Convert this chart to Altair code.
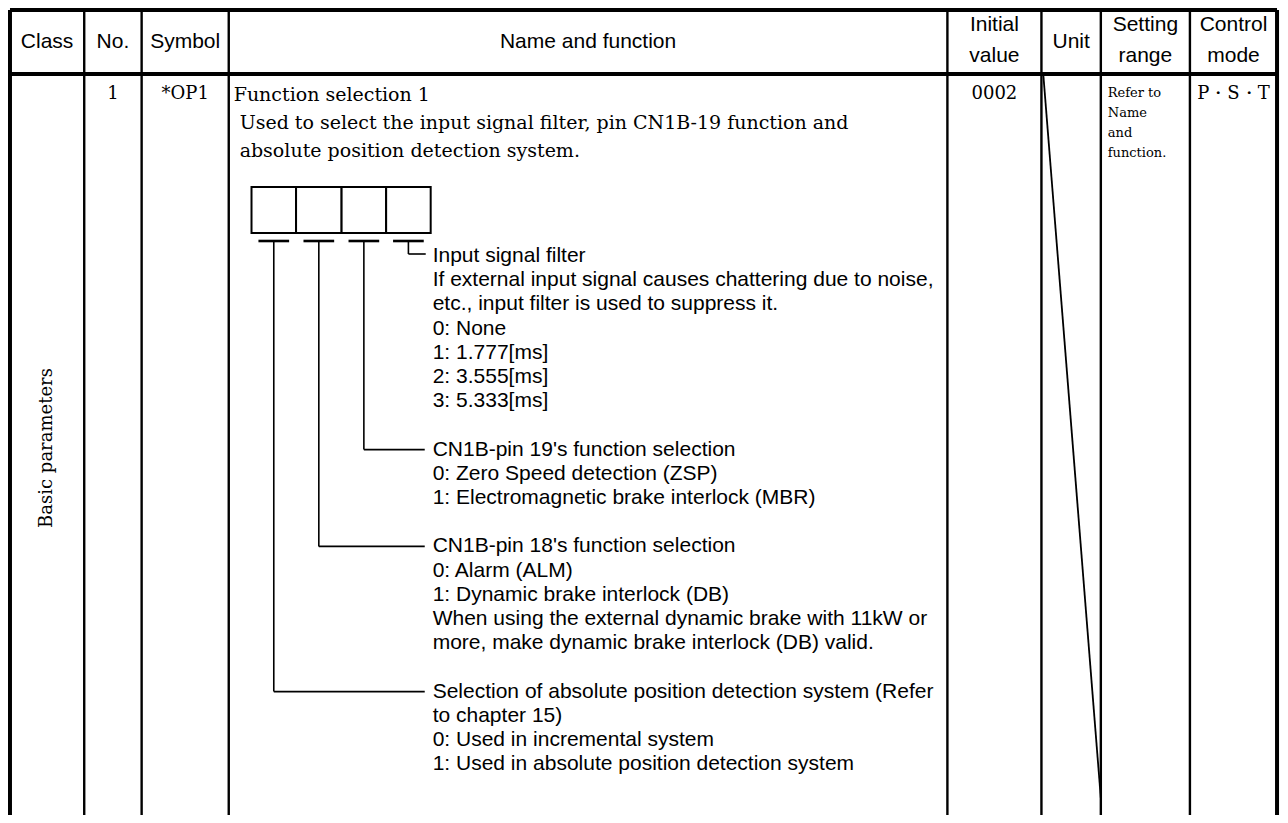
import altair as alt
import pandas as pd

# ---------------- table content ----------------
header_line1 = ["Class", "No.", "Symbol", "Name and function", "Initial", "Unit", "Setting", "Control"]
header_line2 = ["", "", "", "", "value", "", "range", "mode"]

class_label = "Basic parameters"
param_no = "1"
param_symbol = "*OP1"
param_initial = "0002"
param_mode = "P\u30fbS\u30fbT"
setting_range_lines = ["Refer to", "Name", "and", "function."]

name_title = "Function selection 1"
name_desc = [
    "Used to select the input signal filter, pin CN1B-19 function and",
    "absolute position detection system.",
]

digit_filter = [
    "Input signal filter",
    "If external input signal causes chattering due to noise,",
    "etc., input filter is used to suppress it.",
    "0: None",
    "1: 1.777[ms]",
    "2: 3.555[ms]",
    "3: 5.333[ms]",
]
digit_pin19 = [
    "CN1B-pin 19's function selection",
    "0: Zero Speed detection (ZSP)",
    "1: Electromagnetic brake interlock (MBR)",
]
digit_pin18 = [
    "CN1B-pin 18's function selection",
    "0: Alarm (ALM)",
    "1: Dynamic brake interlock (DB)",
    "When using the external dynamic brake with 11kW or",
    "more, make dynamic brake interlock (DB) valid.",
]
digit_abs = [
    "Selection of absolute position detection system (Refer",
    "to chapter 15)",
    "0: Used in incremental system",
    "1: Used in absolute position detection system",
]

# ---------------- layout (page coordinates of the reference) ----------------
col_edges = [5, 80, 138, 226, 952, 1047, 1107, 1197, 1285]
top_y, head_y, bottom_y = 10, 74, 823
box_edges = [249, 294, 340, 385, 430]
box_top, box_bottom = 187, 233
dash_y = 241
line0_y, line_step = 256, 24.2
text_x = 432
leader_end = 424
row_y = 94

xs = alt.Scale(domain=[3, 1288], nice=False, zero=False)
ys = alt.Scale(domain=[8, 815], nice=False, zero=False, reverse=True)

# ---- rules ----
rules = []
def add_rule(x, y, x2, y2, w):
    rules.append(dict(x=x, y=y, x2=x2, y2=y2, w=w))

add_rule(col_edges[0], top_y, col_edges[-1], top_y, 4)
add_rule(col_edges[0], head_y, col_edges[-1], head_y, 4)
for i, e in enumerate(col_edges):
    add_rule(e, top_y, e, bottom_y, 4 if i in (0, len(col_edges) - 1) else 2.4)

# dashes under each digit box
centers = [(box_edges[i] + box_edges[i + 1]) / 2 for i in range(4)]
for c in centers:
    add_rule(c - 15.5, dash_y, c + 15.5, dash_y, 2.6)

# leaders: (lines, line index of group start, box index)
groups = [(digit_abs, 18, 0), (digit_pin18, 12, 1), (digit_pin19, 8, 2)]
for lines, k, bi in groups:
    yy = line0_y + line_step * k
    add_rule(centers[bi], dash_y, centers[bi], yy, 1.6)
    add_rule(centers[bi], yy, leader_end, yy, 1.6)
# short L for input filter
add_rule(centers[3], dash_y, centers[3], 254, 1.6)
add_rule(centers[3], 254, leader_end + 1, 254, 1.6)

# unit column diagonal
add_rule(1049, 76, 1107, 798, 1.8)

rules_df = pd.DataFrame(rules)
rule_layer = alt.Chart(rules_df).mark_rule(color="black", strokeCap="butt").encode(
    x=alt.X("x:Q", scale=xs, axis=None),
    y=alt.Y("y:Q", scale=ys, axis=None),
    x2="x2:Q",
    y2="y2:Q",
    strokeWidth=alt.StrokeWidth("w:Q", scale=None, legend=None),
)

# ---- digit boxes ----
boxes_df = pd.DataFrame({
    "x": box_edges[:-1], "x2": box_edges[1:],
    "y": [box_top] * 4, "y2": [box_bottom] * 4,
})
box_layer = alt.Chart(boxes_df).mark_rect(fill="white", stroke="black", strokeWidth=2).encode(
    x=alt.X("x:Q", scale=xs, axis=None), x2="x2:Q",
    y=alt.Y("y:Q", scale=ys, axis=None), y2="y2:Q",
)

# ---- header text ----
hdr = []
for i, (a, b) in enumerate(zip(header_line1, header_line2)):
    cx = (col_edges[i] + col_edges[i + 1]) / 2
    if b:
        hdr.append(dict(x=cx, y=25, t=a))
        hdr.append(dict(x=cx, y=56, t=b))
    else:
        hdr.append(dict(x=cx, y=42, t=a))
hdr_layer = alt.Chart(pd.DataFrame(hdr)).mark_text(
    font="Liberation Sans", fontSize=21, align="center", baseline="middle", color="black"
).encode(x=alt.X("x:Q", scale=xs, axis=None), y=alt.Y("y:Q", scale=ys, axis=None), text="t:N")

# ---- sans body text ----
body = []
for lines, k0 in [(digit_filter, 0), (digit_pin19, 8), (digit_pin18, 12), (digit_abs, 18)]:
    for j, t in enumerate(lines):
        body.append(dict(x=text_x, y=line0_y + line_step * (k0 + j), t=t))
body_layer = alt.Chart(pd.DataFrame(body)).mark_text(
    font="Liberation Sans", fontSize=21, align="left", baseline="middle", color="black"
).encode(x=alt.X("x:Q", scale=xs, axis=None), y=alt.Y("y:Q", scale=ys, axis=None), text="t:N")

# ---- serif centred cells ----
cells = [
    dict(x=(col_edges[1] + col_edges[2]) / 2, y=row_y, t=param_no),
    dict(x=(col_edges[2] + col_edges[3]) / 2, y=row_y, t=param_symbol),
    dict(x=(col_edges[4] + col_edges[5]) / 2, y=row_y, t=param_initial),
    dict(x=(col_edges[7] + col_edges[8]) / 2, y=row_y, t=param_mode),
]
cell_layer = alt.Chart(pd.DataFrame(cells)).mark_text(
    font="DejaVu Serif", fontSize=18, align="center", baseline="middle", color="black"
).encode(x=alt.X("x:Q", scale=xs, axis=None), y=alt.Y("y:Q", scale=ys, axis=None), text="t:N")

# ---- serif left text in name column ----
name_rows = [dict(x=231, y=row_y + 1, t=name_title)]
for j, t in enumerate(name_desc):
    name_rows.append(dict(x=237, y=123 + 28 * j, t=t))
name_layer = alt.Chart(pd.DataFrame(name_rows)).mark_text(
    font="DejaVu Serif", fontSize=19, align="left", baseline="middle", color="black"
).encode(x=alt.X("x:Q", scale=xs, axis=None), y=alt.Y("y:Q", scale=ys, axis=None), text="t:N")

# ---- setting range small text ----
sr = [dict(x=1114, y=row_y - 1 + 20 * j, t=t) for j, t in enumerate(setting_range_lines)]
sr_layer = alt.Chart(pd.DataFrame(sr)).mark_text(
    font="DejaVu Serif", fontSize=13, align="left", baseline="middle", color="black"
).encode(x=alt.X("x:Q", scale=xs, axis=None), y=alt.Y("y:Q", scale=ys, axis=None), text="t:N")

# ---- class label (vertical) ----
cls = pd.DataFrame([dict(x=(col_edges[0] + col_edges[1]) / 2, y=448, t=class_label)])
cls_layer = alt.Chart(cls).mark_text(
    font="DejaVu Serif", fontSize=18, align="center", baseline="middle", angle=270, color="black"
).encode(x=alt.X("x:Q", scale=xs, axis=None), y=alt.Y("y:Q", scale=ys, axis=None), text="t:N")

chart = alt.layer(
    rule_layer, box_layer, hdr_layer, body_layer, cell_layer, name_layer, sr_layer, cls_layer
).properties(
    width=1272, height=807, padding=0, autosize="none", background="white"
).configure_view(stroke=None)

chart.save("out.html", embed_options={"renderer": "svg", "actions": False})
